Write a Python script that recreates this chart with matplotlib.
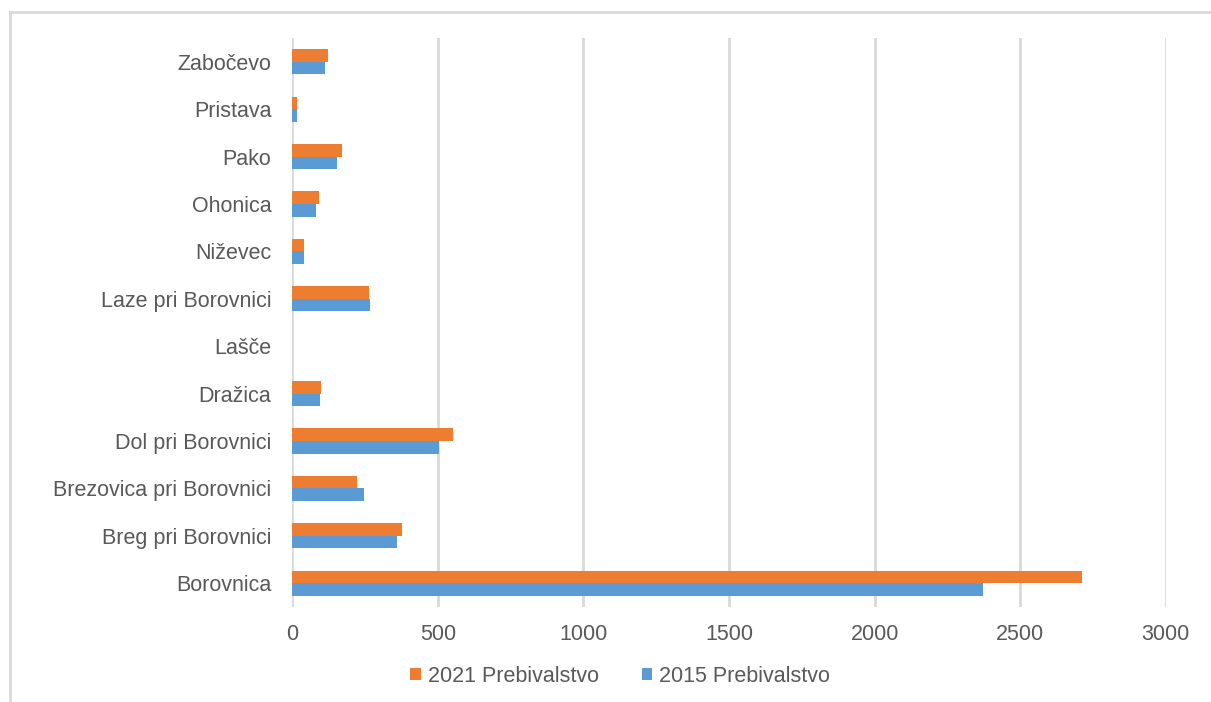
import matplotlib.pyplot as plt
from matplotlib.lines import Line2D

plt.rcParams['font.family'] = ['Liberation Sans', 'DejaVu Sans']

places = ['Borovnica', 'Breg pri Borovnici', 'Brezovica pri Borovnici',
          'Dol pri Borovnici', 'Dražica', 'Lašče', 'Laze pri Borovnici',
          'Niževec', 'Ohonica', 'Pako', 'Pristava', 'Zabočevo']
pop_2021 = [2712, 378, 223, 553, 100, 0, 263, 39, 93, 172, 16, 124]
pop_2015 = [2373, 361, 246, 505, 96, 0, 268, 39, 82, 154, 17, 113]

orange = '#ED7D31'
blue = '#5B9BD5'
text_col = '#595959'
grid_col = '#d9d9d9'
fs = 15.5

fig = plt.figure(figsize=(12.11, 7.02), dpi=100)
ax = fig.add_axes([292.3 / 1211, 1 - 607 / 702, (1165.7 - 292.3) / 1211, (607 - 38) / 702])

h = 0.265
y = list(range(len(places)))
ax.barh([v + h / 2 for v in y], pop_2021, height=h, color=orange, label='2021 Prebivalstvo')
ax.barh([v - h / 2 for v in y], pop_2015, height=h, color=blue, label='2015 Prebivalstvo')

ax.set_xlim(0, 3000)
ax.set_ylim(-0.5, len(places) - 0.5)
ax.set_xticks(range(0, 3001, 500))
ax.set_yticks(y)
ax.set_yticklabels(places)
ax.tick_params(axis='both', length=0, labelsize=fs, colors=text_col)
ax.tick_params(axis='y', pad=15)
ax.tick_params(axis='x', pad=12)
ax.xaxis.grid(True, color=grid_col, linewidth=2)
ax.set_axisbelow(True)
for s in ax.spines.values():
    s.set_visible(False)

leg = fig.legend(loc='center', bbox_to_anchor=(0.512, 1 - 676 / 702), ncol=2,
                 frameon=False, fontsize=fs, handlelength=0.5, handleheight=0.5,
                 handletextpad=0.3, columnspacing=2.0)
for t in leg.get_texts():
    t.set_color(text_col)

# chart frame
fig.add_artist(Line2D([10 / 1211, 10 / 1211], [0, 1 - 12 / 702], transform=fig.transFigure,
                      color=grid_col, linewidth=2))
fig.add_artist(Line2D([10 / 1211, 1], [1 - 12 / 702, 1 - 12 / 702], transform=fig.transFigure,
                      color=grid_col, linewidth=2))

fig.savefig('out.png', dpi=100)
